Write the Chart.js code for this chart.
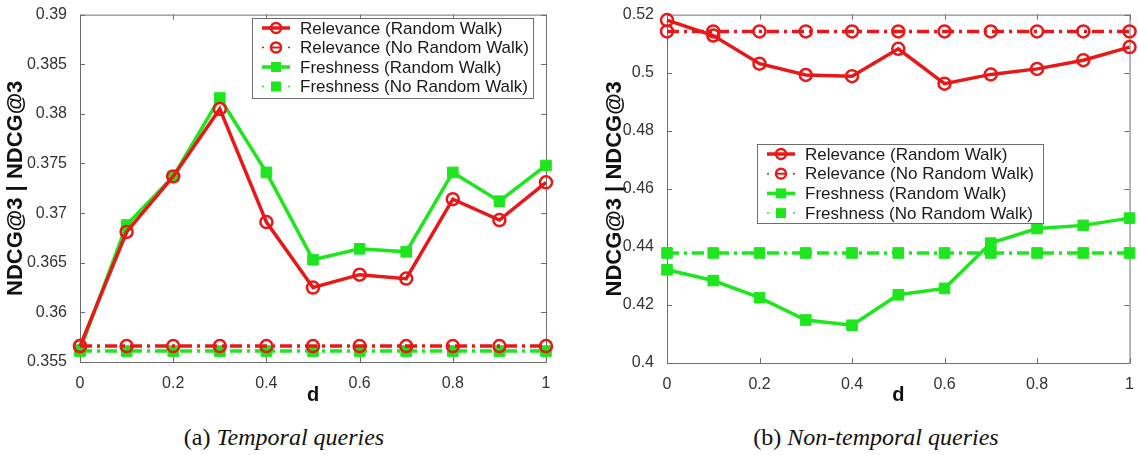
<!DOCTYPE html>
<html>
<head>
<meta charset="utf-8">
<script src="https://cdn.jsdelivr.net/npm/chart.js@4.4.0/dist/chart.umd.min.js"></script>
<style>
  body { margin: 0; background: #fff; width: 1138px; height: 455px; position: relative; overflow: hidden; }
  canvas { position: absolute; top: 0; }
  #chartA { left: 0; }
  #chartB { left: 570px; }
  .caption {
    position: absolute; top: 424px; transform: translateX(-50%);
    font-family: 'Liberation Serif', 'DejaVu Serif', serif; font-size: 24px; color: #111; white-space: nowrap;
  }
</style>
</head>
<body>
<canvas id="chartA" width="570" height="410"></canvas>
<canvas id="chartB" width="568" height="410"></canvas>
<div class="caption" style="left:284px">(a) <i>Temporal queries</i></div>
<div class="caption" style="left:876px">(b) <i>Non-temporal queries</i></div>

<script>
// Eje x (d) y ticks
const dValues = [0, 0.1, 0.2, 0.3, 0.4, 0.5, 0.6, 0.7, 0.8, 0.9, 1];
const xTicks = [0, 0.2, 0.4, 0.6, 0.8, 1];
const yTicksTemporal = [0.355, 0.36, 0.365, 0.37, 0.375, 0.38, 0.385, 0.39];
const yTicksNonTemporal = [0.4, 0.42, 0.44, 0.46, 0.48, 0.5, 0.52];

const seriesNames = [
    'Relevance (Random Walk)',
    'Relevance (No Random Walk)',
    'Freshness (Random Walk)',
    'Freshness (No Random Walk)'
];

// (a) Temporal queries
const relRandomTemporal   = [0.3566, 0.3681, 0.3737, 0.3805, 0.3691, 0.3625, 0.3638, 0.3634, 0.3714, 0.3693, 0.3731];
const relNoRandomTemporal = [0.3566, 0.3566, 0.3566, 0.3566, 0.3566, 0.3566, 0.3566, 0.3566, 0.3566, 0.3566, 0.3566];
const frRandomTemporal    = [0.3562, 0.3688, 0.3737, 0.3816, 0.3741, 0.3653, 0.3664, 0.3661, 0.3741, 0.3712, 0.3748];
const frNoRandomTemporal  = [0.3561, 0.3561, 0.3561, 0.3561, 0.3561, 0.3561, 0.3561, 0.3561, 0.3561, 0.3561, 0.3561];

// (b) Non-temporal queries
const relRandomNonTemporal   = [0.5181, 0.5128, 0.5031, 0.4992, 0.4988, 0.5082, 0.4962, 0.4994, 0.5013, 0.5043, 0.5088];
const relNoRandomNonTemporal = [0.5142, 0.5142, 0.5142, 0.5142, 0.5142, 0.5142, 0.5142, 0.5142, 0.5142, 0.5142, 0.5142];
const frRandomNonTemporal    = [0.4321, 0.4284, 0.4225, 0.4148, 0.4130, 0.4235, 0.4257, 0.4413, 0.4463, 0.4474, 0.4499];
const frNoRandomNonTemporal  = [0.4379, 0.4379, 0.4379, 0.4379, 0.4379, 0.4379, 0.4379, 0.4379, 0.4379, 0.4379, 0.4379];

const RED = '#e81818';
const GREEN = '#1ee61e';
const DASH_DOT = [12, 5, 3, 5];

Chart.defaults.font.family = "'Liberation Sans', Arial, sans-serif";

function makeDataset(label, values, color, shape, dashed) {
    const isCircle = shape === 'circle';
    return {
        label: label,
        data: values.map((v, i) => ({ x: dValues[i], y: v })),
        borderColor: color,
        backgroundColor: color,
        borderWidth: 3.5,
        borderDash: dashed ? DASH_DOT : [],
        pointStyle: shape,
        pointRadius: isCircle ? 6 : 7.5,
        pointBorderWidth: isCircle ? 2.5 : 1,
        pointBackgroundColor: isCircle ? 'rgba(0,0,0,0)' : color,
        pointBorderColor: color,
        tension: 0,
        clip: false
    };
}

// Marco tipo MATLAB con ticks hacia dentro
const framePlugin = {
    id: 'frame',
    beforeDatasetsDraw(chart) {
        const { ctx, chartArea: a, scales } = chart;
        ctx.save();
        ctx.strokeStyle = '#6e6e6e';
        ctx.lineWidth = 1;
        ctx.strokeRect(a.left + 0.5, a.top + 0.5, a.right - a.left, a.bottom - a.top);
        ctx.beginPath();
        xTicks.forEach(v => {
            const x = Math.round(scales.x.getPixelForValue(v)) + 0.5;
            ctx.moveTo(x, a.bottom); ctx.lineTo(x, a.bottom - 5);
            ctx.moveTo(x, a.top); ctx.lineTo(x, a.top + 5);
        });
        scales.y.ticks.forEach(t => {
            const y = Math.round(scales.y.getPixelForValue(t.value)) + 0.5;
            ctx.moveTo(a.left, y); ctx.lineTo(a.left + 5, y);
            ctx.moveTo(a.right, y); ctx.lineTo(a.right - 5, y);
        });
        ctx.stroke();
        ctx.restore();
    }
};

// Leyenda dibujada dentro del area
const boxLegendPlugin = {
    id: 'boxLegend',
    afterDraw(chart, args, opts) {
        const { ctx } = chart;
        ctx.save();
        ctx.fillStyle = '#fff';
        ctx.fillRect(opts.x, opts.y, opts.w, opts.h);
        ctx.strokeStyle = '#6e6e6e';
        ctx.lineWidth = 1;
        ctx.strokeRect(opts.x + 0.5, opts.y + 0.5, opts.w, opts.h);
        chart.data.datasets.forEach((ds, i) => {
            const cy = opts.y + opts.firstRow + i * opts.rowGap;
            const cx = opts.iconX;
            ctx.strokeStyle = ds.borderColor;
            ctx.fillStyle = ds.borderColor;
            ctx.lineWidth = ds.borderWidth;
            ctx.beginPath();
            if (ds.borderDash.length) {
                ctx.lineWidth = 1.5;
                ctx.moveTo(cx - 14, cy); ctx.lineTo(cx - 12, cy);
                ctx.moveTo(cx + 12, cy); ctx.lineTo(cx + 14, cy);
            } else {
                ctx.moveTo(cx - 14, cy); ctx.lineTo(cx + 14, cy);
            }
            ctx.stroke();
            ctx.beginPath();
            if (ds.pointStyle === 'circle') {
                ctx.lineWidth = 2.5;
                ctx.arc(cx, cy, 5, 0, Math.PI * 2);
                ctx.stroke();
                ctx.beginPath();
                ctx.lineWidth = 2;
                ctx.moveTo(cx - 4, cy); ctx.lineTo(cx + 4, cy);
                ctx.stroke();
            } else {
                ctx.fillRect(cx - 5, cy - 5, 10, 10);
            }
            ctx.fillStyle = '#1a1a1a';
            ctx.font = "17px 'Liberation Sans', Arial, sans-serif";
            ctx.textBaseline = 'middle';
            ctx.fillText(ds.label, opts.textX, cy + 1);
        });
        ctx.restore();
    }
};

function makeChart(canvasId, series, yTicks, lay, legendBox) {
    const datasets = [
        makeDataset(seriesNames[0], series[0], RED, 'circle', false),
        makeDataset(seriesNames[1], series[1], RED, 'circle', true),
        makeDataset(seriesNames[2], series[2], GREEN, 'rect', false),
        makeDataset(seriesNames[3], series[3], GREEN, 'rect', true)
    ];
    const fmt = v => String(parseFloat(Number(v).toFixed(3)));
    return new Chart(document.getElementById(canvasId), {
        type: 'line',
        data: { datasets: datasets },
        options: {
            responsive: false,
            animation: false,
            layout: { autoPadding: false, padding: { left: 0, top: 8, right: lay.right, bottom: 0 } },
            plugins: {
                legend: { display: false },
                tooltip: { enabled: false },
                boxLegend: legendBox
            },
            scales: {
                x: {
                    type: 'linear',
                    min: 0, max: 1,
                    afterBuildTicks: s => { s.ticks = xTicks.map(v => ({ value: v })); },
                    afterFit: s => { s.height = lay.xHeight; },
                    grid: { display: false },
                    border: { display: false },
                    ticks: { color: '#333', font: { size: 16 }, padding: 4, callback: fmt, maxRotation: 0 },
                    title: { display: true, text: 'd', color: '#111', font: { size: 20, weight: 'bold' }, padding: { top: 0, bottom: 3 } }
                },
                y: {
                    min: yTicks[0], max: yTicks[yTicks.length - 1],
                    afterBuildTicks: s => { s.ticks = yTicks.map(v => ({ value: v })); },
                    afterFit: s => { s.width = lay.yWidth; },
                    grid: { display: false },
                    border: { display: false },
                    ticks: { color: '#333', font: { size: 16 }, padding: 5, callback: fmt },
                    title: { display: true, text: 'NDCG@3 | NDCG@3', color: '#111', font: { size: 22, weight: 'bold' }, padding: { top: lay.titlePad, bottom: 0 } }
                }
            }
        },
        plugins: [framePlugin, boxLegendPlugin]
    });
}

makeChart('chartA',
    [relRandomTemporal, relNoRandomTemporal, frRandomTemporal, frNoRandomTemporal],
    yTicksTemporal,
    { right: 24, yWidth: 80, xHeight: 48, titlePad: 3 },
    { x: 252, y: 18, w: 281, h: 80, firstRow: 10, rowGap: 19.5, iconX: 276, textX: 300 });

makeChart('chartB',
    [relRandomNonTemporal, relNoRandomNonTemporal, frRandomNonTemporal, frNoRandomNonTemporal],
    yTicksNonTemporal,
    { right: 4, yWidth: 97, xHeight: 47, titlePad: 32 },
    { x: 187, y: 144, w: 286, h: 79, firstRow: 10, rowGap: 19.7, iconX: 211, textX: 235 });
</script>
</body>
</html>
